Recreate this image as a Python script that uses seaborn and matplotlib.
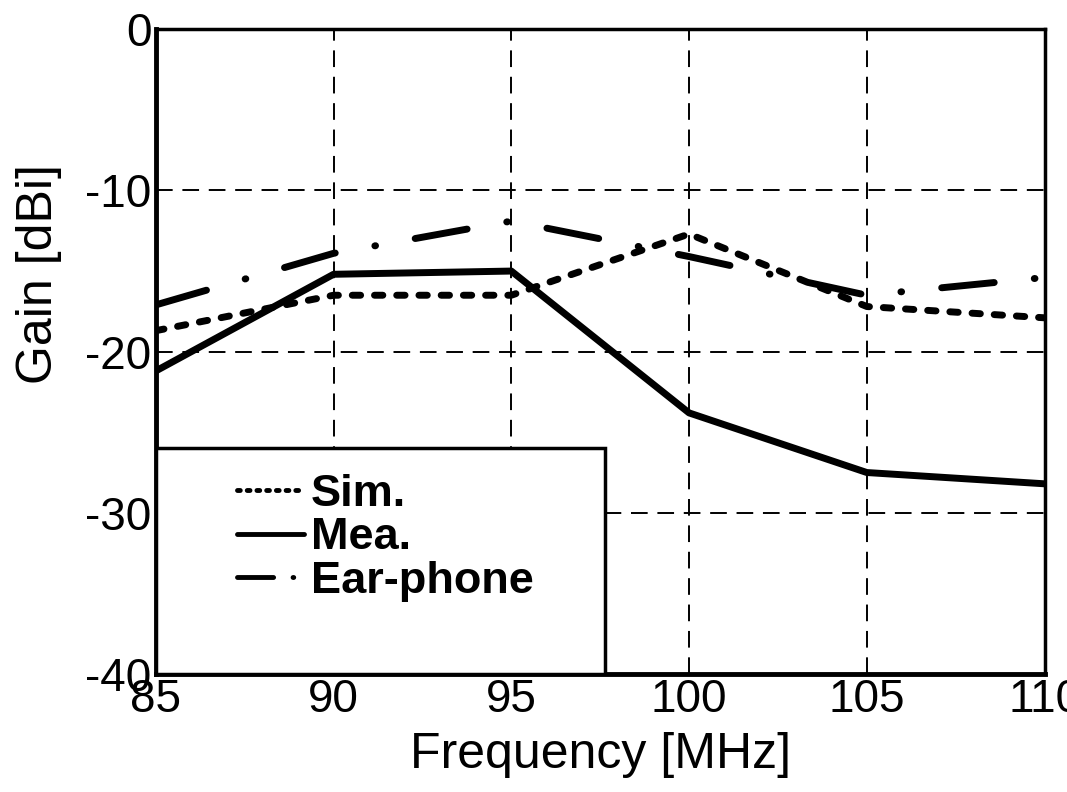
import matplotlib
matplotlib.use("Agg")
import matplotlib.pyplot as plt
import seaborn as sns
import pandas as pd
from matplotlib.patches import Rectangle

# ---- data ----
freq = [85, 90, 95, 100, 105, 110]
sim = [-18.7, -16.5, -16.5, -12.7, -17.2, -17.9]
mea = [-21.2, -15.2, -15.0, -23.8, -27.5, -28.2]
ear = [-17.1, -13.9, -11.9, -14.1, -16.5, -15.4]
series_labels = ["Sim.", "Mea.", "Ear-phone"]
x_ticks = [85, 90, 95, 100, 105, 110]
y_ticks = [-40, -30, -20, -10, 0]
x_label = "Frequency [MHz]"
y_label = "Gain [dBi]"

sns.set_style("white")
plt.rcParams['font.family'] = ['Liberation Sans', 'DejaVu Sans']
plt.rcParams['lines.scale_dashes'] = False
plt.rcParams['axes.unicode_minus'] = False
plt.rcParams['text.color'] = 'black'
plt.rcParams['axes.labelcolor'] = 'black'
plt.rcParams['xtick.color'] = 'black'
plt.rcParams['ytick.color'] = 'black'

fig = plt.figure(figsize=(10.67, 7.92), dpi=100)
ax = fig.add_axes([0.146, 0.149, 0.833, 0.814])

dash_styles = {"Sim.": (6, 10), "Mea.": None, "Ear-phone": (38, 29, 0.5, 29)}
legend_dashes = {"Sim.": (2, 5), "Mea.": None, "Ear-phone": (26, 14, 0.5, 14)}
for lab, vals in zip(series_labels, [sim, mea, ear]):
    df = pd.DataFrame({"freq": freq, "gain": vals})
    sns.lineplot(data=df, x="freq", y="gain", color="black", linewidth=5,
                 label=lab, ax=ax, zorder=3)
    ln = ax.lines[-1]
    if dash_styles[lab] is not None:
        ln.set_dashes(dash_styles[lab])
        ln.set_dash_capstyle("round")

ax.set_xlim(85, 110)
ax.set_ylim(-40, 0)
ax.set_xticks(x_ticks)
ax.set_yticks(y_ticks)
ax.tick_params(axis="both", length=0, labelsize=33, pad=3, colors="black")
ax.grid(True, color="black", linestyle=(0, (12, 7)), linewidth=1.4)
for s in ax.spines.values():
    s.set_color("black")
    s.set_linewidth(2.5)
    s.set_zorder(5)
ax.spines["left"].set_linewidth(3.5)
ax.spines["bottom"].set_linewidth(3.5)

ax.set_xlabel(x_label, fontsize=36, labelpad=7)
ax.set_ylabel(y_label, fontsize=36)
ax.yaxis.set_label_coords(-0.105, 0.62)

# legend box
rect = Rectangle((0, 0), 0.505, 0.35, transform=ax.transAxes, facecolor="white",
                 edgecolor="black", linewidth=2.5, zorder=6)
ax.add_patch(rect)
handles, labels = ax.get_legend_handles_labels()
leg = ax.legend(handles, labels, loc="upper left", bbox_to_anchor=(0.091, 0.31),
                frameon=False, prop={"size": 32.5, "weight": "bold"},
                handlelength=1.5, handletextpad=0.15, labelspacing=0.05,
                borderpad=0, borderaxespad=0)
leg.set_zorder(7)
for h, lab in zip(leg.get_lines(), labels):
    h.set_linewidth(3.5)
    if legend_dashes[lab] is not None:
        h.set_dashes(legend_dashes[lab])
        h.set_dash_capstyle("round")

fig.savefig("out.png", dpi=100, facecolor="white")
